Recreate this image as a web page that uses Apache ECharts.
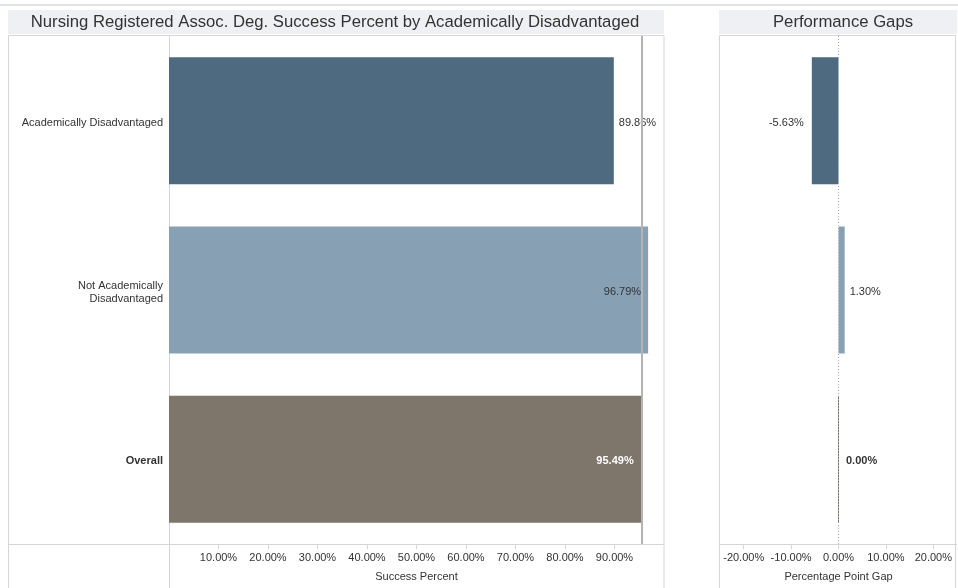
<!DOCTYPE html>
<html>
<head>
<meta charset="utf-8">
<script src="https://cdn.jsdelivr.net/npm/echarts@6/dist/echarts.min.js"></script>
<style>html,body{margin:0;padding:0;background:#fff;}#c{width:958px;height:588px;}</style>
</head>
<body>
<div id="c"></div>
<script>
const categories = ['Academically Disadvantaged', 'Not Academically\nDisadvantaged', 'Overall'];
const successPct = [89.86, 96.79, 95.49];
const gapPct = [-5.63, 1.30, 0.00];
const overallRef = 95.49;
const successTicks = [10, 20, 30, 40, 50, 60, 70, 80, 90];
const gapTicks = [-20, -10, 0, 10, 20];
const barColors = ['#4e6a81', '#88a0b4', '#7e756b'];

const FONT = '"Liberation Sans", Arial, sans-serif';
const chart = echarts.init(document.getElementById('c'));
const pct = v => v.toFixed(2) + '%';

const successLabels = [
  { position: 'right', distance: 5, color: '#333' },
  { position: 'insideRight', distance: 7, color: '#333' },
  { position: 'insideRight', distance: 8, color: '#fff', fontWeight: 'bold' }
];
const gapLabels = [
  { position: 'left', distance: 8, color: '#333' },
  { position: 'right', distance: 5, color: '#333' },
  { position: 'right', distance: 7, color: '#333', fontWeight: 'bold' }
];

const border = '#d6d6d6';
chart.setOption({
  animation: false,
  textStyle: { fontFamily: FONT },
  title: [
    { text: 'Nursing Registered Assoc. Deg. Success Percent by Academically Disadvantaged', left: 330, top: 9, textAlign: 'center',
      textStyle: { fontFamily: FONT, fontSize: 16.7, fontWeight: 'normal', color: '#333' } },
    { text: 'Performance Gaps', left: 838, top: 9, textAlign: 'center',
      textStyle: { fontFamily: FONT, fontSize: 16.7, fontWeight: 'normal', color: '#333' } }
  ],
  graphic: [
    { type: 'rect', z: -10, shape: { x: 0, y: 4, width: 958, height: 2 }, style: { fill: '#e3e3e3' } },
    { type: 'rect', z: -10, shape: { x: 8, y: 10, width: 656, height: 24 }, style: { fill: '#eef0f3' } },
    { type: 'rect', z: -10, shape: { x: 719, y: 10, width: 238, height: 24 }, style: { fill: '#eef0f3' } },
    { type: 'rect', z: -5, shape: { x: 8.5, y: 35.5, width: 655.5, height: 560 }, style: { fill: 'none', stroke: border, lineWidth: 1 } },
    { type: 'line', z: -5, shape: { x1: 169.5, y1: 35, x2: 169.5, y2: 588 }, style: { stroke: border, lineWidth: 1 } },
    { type: 'line', z: -5, shape: { x1: 8, y1: 544.5, x2: 169, y2: 544.5 }, style: { stroke: border, lineWidth: 1 } },
    { type: 'rect', z: -5, shape: { x: 719.5, y: 35.5, width: 236, height: 560 }, style: { fill: 'none', stroke: border, lineWidth: 1 } }
  ],
  grid: [
    { left: 169, right: 294, top: 36, bottom: 44 },
    { left: 720, right: 1, top: 36, bottom: 44 }
  ],
  xAxis: [
    { gridIndex: 0, type: 'value', min: 0, max: 100,
      name: 'Success Percent', nameLocation: 'middle', nameGap: 27,
      nameTextStyle: { fontFamily: FONT, fontSize: 11, color: '#333' },
      axisLine: { show: true, lineStyle: { color: border } },
      axisTick: { show: true, length: 5, lineStyle: { color: border }, customValues: successTicks },
      axisLabel: { customValues: successTicks, formatter: v => pct(v), fontSize: 11, color: '#333', margin: 8, fontFamily: FONT },
      splitLine: { show: false } },
    { gridIndex: 1, type: 'value', min: -25, max: 25,
      name: 'Percentage Point Gap', nameLocation: 'middle', nameGap: 27,
      nameTextStyle: { fontFamily: FONT, fontSize: 11, color: '#333' },
      axisLine: { show: true, onZero: false, lineStyle: { color: border } },
      axisTick: { show: true, length: 5, lineStyle: { color: border }, customValues: gapTicks },
      axisLabel: { customValues: gapTicks, formatter: v => pct(v), fontSize: 11, color: '#333', margin: 8, fontFamily: FONT },
      splitLine: { show: false } }
  ],
  yAxis: [
    { gridIndex: 0, type: 'category', inverse: true, data: categories,
      axisLine: { show: false }, axisTick: { show: false },
      axisLabel: { margin: 6, fontSize: 11, color: '#333', align: 'right', lineHeight: 13, fontFamily: FONT,
        padding: [4, 0, 0, 0],
        formatter: v => v === 'Overall' ? '{b|' + v + '}' : v,
        rich: { b: { fontWeight: 'bold', fontSize: 11, color: '#333', fontFamily: FONT } } } },
    { gridIndex: 1, type: 'category', inverse: true, data: categories,
      axisLine: { show: false }, axisTick: { show: false }, axisLabel: { show: false } }
  ],
  series: [
    { type: 'bar', xAxisIndex: 0, yAxisIndex: 0, barWidth: 127,
      data: successPct.map((v, i) => ({ value: v, itemStyle: { color: barColors[i] },
        label: Object.assign({ show: true, formatter: p => pct(p.value), fontSize: 11, fontFamily: FONT, offset: [0, 2] }, successLabels[i]) })),
      markLine: { silent: true, symbol: 'none', label: { show: false },
        lineStyle: { color: '#b4b4b4', width: 2, type: 'solid' }, data: [{ xAxis: overallRef }] } },
    { type: 'bar', xAxisIndex: 1, yAxisIndex: 1, barWidth: 127,
      data: gapPct.map((v, i) => ({ value: v, itemStyle: { color: barColors[i], borderColor: barColors[i], borderWidth: v === 0 ? 1 : 0 },
        label: Object.assign({ show: true, formatter: p => pct(p.value), fontSize: 11, fontFamily: FONT, offset: [0, 2] }, gapLabels[i]) })),
      markLine: { silent: true, symbol: 'none', label: { show: false },
        lineStyle: { color: '#b0b0b0', width: 1, type: [1, 2] }, data: [{ xAxis: 0 }] } }
  ]
});
</script>
</body>
</html>
